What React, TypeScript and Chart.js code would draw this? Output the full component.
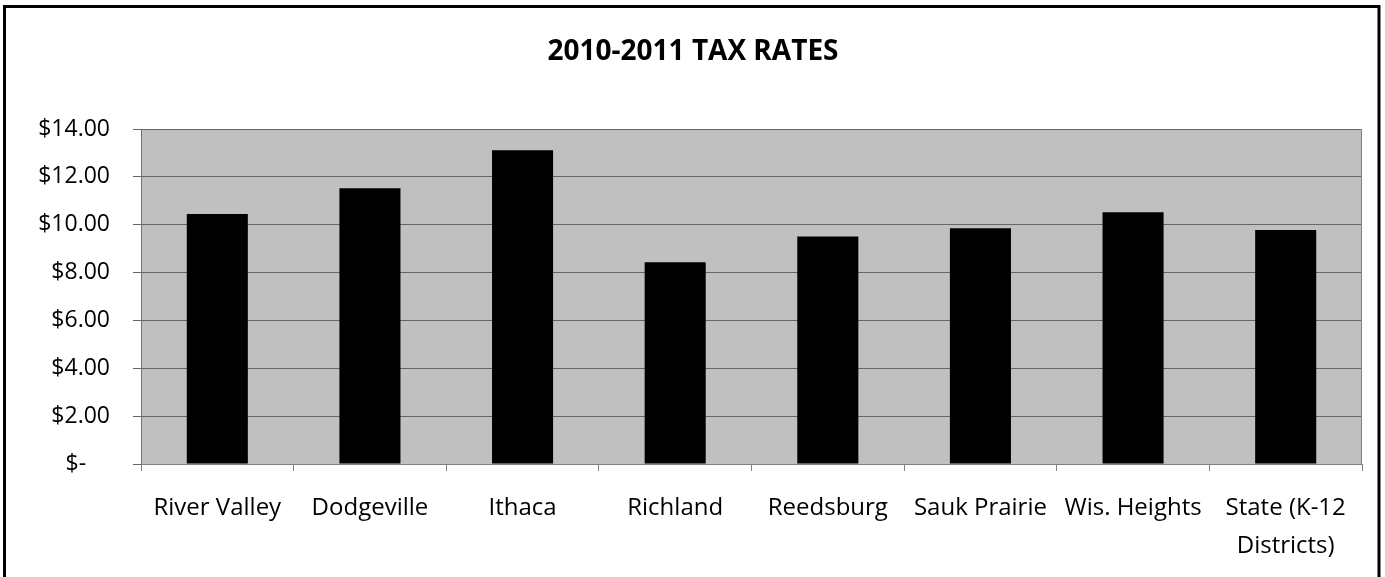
import React, { useEffect, useRef } from "react";
import { Chart, registerables } from "chart.js";

Chart.register(...registerables);

const categories: (string | string[])[] = [
  "River Valley",
  "Dodgeville",
  "Ithaca",
  "Richland",
  "Reedsburg",
  "Sauk Prairie",
  "Wis. Heights",
  ["State (K-12", "Districts)"],
];
const taxRates: number[] = [10.45, 11.52, 13.11, 8.43, 9.51, 9.85, 10.52, 9.78];
const yTicks: number[] = [0, 2, 4, 6, 8, 10, 12, 14];
const titleText = "2010-2011 TAX RATES";

const frame = {
  id: "frame",
  beforeDraw(chart: any) {
    const { ctx, chartArea } = chart;
    ctx.save();
    ctx.fillStyle = "#ffffff";
    ctx.fillRect(0, 0, chart.width, chart.height);
    ctx.fillStyle = "#c0c0c0";
    ctx.fillRect(chartArea.left, chartArea.top, chartArea.right - chartArea.left, chartArea.bottom - chartArea.top);
    ctx.restore();
  },
  afterDraw(chart: any) {
    const { ctx, chartArea } = chart;
    ctx.save();
    ctx.strokeStyle = "#808080";
    ctx.lineWidth = 1;
    ctx.beginPath();
    ctx.moveTo(Math.round(chartArea.right) - 0.5, chartArea.top);
    ctx.lineTo(Math.round(chartArea.right) - 0.5, chartArea.bottom);
    ctx.stroke();
    ctx.strokeStyle = "#000000";
    ctx.lineWidth = 3;
    ctx.strokeRect(4.5, 6.5, 1374.5, 700);
    ctx.restore();
  },
};

export default function App() {
  const ref = useRef<HTMLCanvasElement | null>(null);
  useEffect(() => {
    if (!ref.current) return;
    Chart.defaults.font.family = "'Open Sans', sans-serif";
    Chart.defaults.color = "#000000";
    const chart = new Chart(ref.current, {
      type: "bar",
      data: {
        labels: categories,
        datasets: [
          {
            data: taxRates,
            backgroundColor: "#000000",
            borderColor: "#000000",
            borderWidth: 0,
            barPercentage: 0.4,
            categoryPercentage: 1.0,
          },
        ],
      },
      plugins: [frame],
      options: {
        responsive: false,
        animation: false,
        layout: { padding: { left: 24, right: 23, top: 0, bottom: 0 } },
        plugins: {
          legend: { display: false },
          tooltip: { enabled: false },
          title: {
            display: true,
            text: titleText,
            color: "#000000",
            font: { size: 28, weight: "bold" },
            padding: { top: 35, bottom: 60.4 },
          },
        },
        scales: {
          x: {
            offset: true,
            border: { display: true, color: "#808080", width: 1 },
            grid: {
              offset: true,
              drawOnChartArea: false,
              drawTicks: true,
              tickLength: 7,
              color: "#808080",
            },
            ticks: {
              font: { size: 24, lineHeight: 1.58 },
              padding: 18,
              maxRotation: 0,
              autoSkip: false,
            },
            afterFit(scale: any) {
              scale.height = 113;
            },
          },
          y: {
            min: 0,
            max: 14,
            border: { display: true, color: "#707070", width: 1 },
            grid: {
              color: "#666666",
              lineWidth: 1,
              tickLength: 8,
            },
            afterBuildTicks(scale: any) {
              scale.ticks = yTicks.map((v) => ({ value: v }));
            },
            ticks: {
              font: { size: 23 },
              padding: 23,
              callback: (v: any) => (Number(v) === 0 ? "$-    " : "$" + Number(v).toFixed(2)),
            },
            afterFit(scale: any) {
              scale.width = 117;
            },
          },
        },
      },
    });
    return () => chart.destroy();
  }, []);
  return (
    <div style={{ position: "absolute", left: 0, top: 0, width: 1385, height: 577 }}>
      <canvas ref={ref} width={1385} height={577} style={{ display: "block" }} />
    </div>
  );
}
